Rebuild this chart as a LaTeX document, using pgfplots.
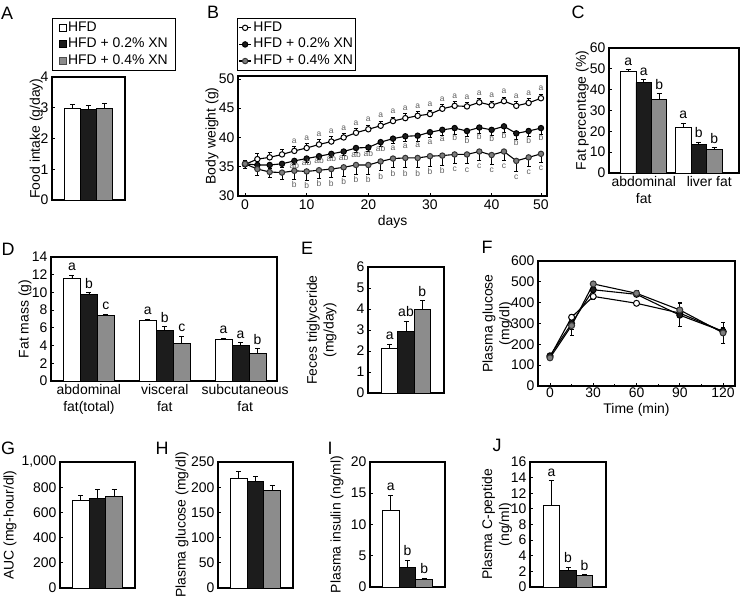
\documentclass[border=0pt]{standalone}
\usepackage{pgfplots}
\pgfplotsset{compat=1.18}
\usepackage{pgfplotstable}
\usepackage{fontspec}
\setmainfont{Liberation Sans}
\newcommand{\lbl}{\fontsize{14}{17}\selectfont}
\newcommand{\pnl}{\fontsize{18}{20}\selectfont}
\newcommand{\sml}{\fontsize{8.5}{9}\selectfont}
\definecolor{gbar}{RGB}{140,140,140}
\definecolor{kbar}{RGB}{28,28,28}
\definecolor{gmark}{RGB}{125,125,125}
\definecolor{lett}{RGB}{95,95,95}

\pgfplotstableread{
i W We K Ke G Ge
0 35.4 0.7 35.5 0.8 35.5 0.8
1 36.3 1.0 35.3 0.6 34.6 1.1
2 36.6 0.8 35.3 0.6 34.1 1.0
3 37.1 0.9 35.5 0.6 34.0 1.1
4 37.7 0.8 36.0 0.6 34.3 1.4
5 38.2 0.8 36.4 0.6 34.2 1.5
6 38.8 0.8 36.8 0.6 34.4 1.4
7 39.3 0.8 37.2 0.6 34.6 1.5
8 40.0 0.7 37.6 0.7 34.9 1.5
9 40.8 0.7 38.2 0.7 35.3 1.6
10 41.4 0.7 38.3 0.7 35.3 1.6
11 42.0 0.8 39.2 0.8 35.9 1.6
12 42.8 0.7 39.8 0.9 36.4 1.6
13 43.3 0.8 40.2 0.9 36.5 1.7
14 43.7 0.7 40.3 0.9 36.5 1.7
15 44.0 0.7 40.9 0.9 36.8 1.7
16 44.9 0.7 41.3 0.9 36.9 1.6
17 45.4 0.7 41.6 1.0 37.1 1.5
18 45.3 0.7 41.1 1.0 37.1 1.6
19 46.0 0.7 41.7 1.0 37.6 1.5
20 45.5 0.7 41.3 1.0 37.0 1.6
21 46.2 0.7 41.9 1.0 37.6 1.5
22 45.4 0.7 40.7 1.1 36.0 1.8
23 45.9 0.7 41.1 1.0 36.6 1.5
24 46.7 0.7 41.6 1.0 37.2 1.4
}\bw

\pgfplotsset{
  panel/.style={scale only axis, clip=false, anchor=south west,
    axis line style={line width=1.2bp},
    tick align=inside, major tick length=3bp, minor tick length=2bp,
    every tick/.style={black, line width=0.8bp},
    xtick pos=bottom, ytick pos=left,
    tick label style={font=\lbl}, label style={font=\lbl},
    every axis y label/.append style={anchor=center},
    /pgf/number format/assume math mode=true},
  barpanel/.style={panel, xmin=-2.25, xmax=2.25, xtick=\empty, ymin=0},
  barbase/.style={ybar, bar shift=0pt, draw=black, line width=0.8bp, forget plot,
    error bars/y dir=plus, error bars/y explicit,
    error bars/error bar style={line width=0.8bp, black},
    error bars/error mark options={rotate=90, mark size=2.5bp, line width=0.8bp, black}},
  letts/.style={draw=none, mark=none, forget plot, nodes near coords, point meta=explicit symbolic,
    every node near coord/.append style={font=\lbl, inner sep=0pt, anchor=south, yshift=4bp, text=black}},
  bletts/.style={draw=none, mark=none, forget plot, nodes near coords, point meta=explicit symbolic,
    every node near coord/.append style={font=\sml, inner sep=0pt, anchor=south, text=lett}},
  sqleg/.style={legend image code/.code={\draw[##1, line width=0.8bp] (0bp,-3.5bp) rectangle (7bp,3.5bp);}},
  mylegend/.style={legend style={draw=black, line width=1bp, font=\lbl, inner xsep=1bp, inner ysep=1bp,
    row sep=0bp, cells={anchor=west}, nodes={inner sep=1.8bp, text height=10bp, text depth=3bp}},
    legend cell align=left},
}

\begin{document}
\begin{tikzpicture}
\path[use as bounding box] (0bp,0bp) rectangle (742bp,597bp);

% ---------------- A
\begin{axis}[barpanel, at={(52bp,397bp)}, width=73bp, height=123bp,
  ymax=4, ytick={0,1,2,3,4}, ylabel={Food intake (g/day)},
  ylabel style={at={(axis description cs:-0.215,0.5)}},
  mylegend, legend style={at={(axis description cs:0,1.48)}, anchor=north west, inner xsep=6bp}]
\addlegendimage{sqleg, fill=white, draw=black}\addlegendentry{HFD}
\addlegendimage{sqleg, fill=kbar, draw=black}\addlegendentry{HFD + 0.2\% XN}
\addlegendimage{sqleg, fill=gbar, draw=black!70}\addlegendentry{HFD + 0.4\% XN}
\addplot[barbase, bar width=1, fill=white] coordinates {(-1,2.97) +- (0,0.13)};
\addplot[barbase, bar width=1, fill=kbar] coordinates {(0,2.95) +- (0,0.13)};
\addplot[barbase, bar width=1, fill=gbar] coordinates {(1,2.97) +- (0,0.17)};
\end{axis}

% ---------------- B
\begin{axis}[panel, at={(238bp,401bp)}, width=309bp, height=120bp,
  xmin=-0.57, xmax=24.49, ymin=30, ymax=50.5,
  xtick={0,5,10,15,20,24}, xticklabels={0,10,20,30,40,50},
  ytick={30,35,40,45,50},
  ylabel={Body weight (g)}, ylabel style={at={(axis description cs:-0.084,0.5)}},
  xlabel={days}, xlabel style={at={(axis description cs:0.5,-0.217)}, anchor=center},
  mylegend, legend style={at={(axis description cs:-0.003,1.483)}, anchor=north west},
  legend image code/.code={\draw[mark repeat=2, mark phase=2, #1] plot coordinates {(0bp,0bp) (6bp,0bp) (12bp,0bp)};}]
\addplot[black, line width=1.1bp, mark=*, mark size=2.7bp, mark options={fill=white, draw=black, line width=1bp},
  error bars/y dir=plus, error bars/y explicit, error bars/error bar style={line width=0.8bp, black},
  error bars/error mark options={rotate=90, mark size=2bp, line width=0.8bp, black}]
  table[x=i, y=W, y error=We] {\bw};
\addlegendentry{HFD}
\addplot[black, line width=1.1bp, mark=*, mark size=2.7bp, mark options={fill=kbar, draw=black, line width=1bp},
  error bars/y dir=minus, error bars/y explicit, error bars/error bar style={line width=0.8bp, black},
  error bars/error mark options={rotate=90, mark size=2bp, line width=0.8bp, black}]
  table[x=i, y=K, y error=Ke] {\bw};
\addlegendentry{HFD + 0.2\% XN}
\addplot[black, line width=1.1bp, mark=*, mark size=2.7bp, mark options={fill=gmark, draw=black!80, line width=1bp},
  error bars/y dir=minus, error bars/y explicit, error bars/error bar style={line width=0.8bp, black},
  error bars/error mark options={rotate=90, mark size=2bp, line width=0.8bp, black}]
  table[x=i, y=G, y error=Ge] {\bw};
\addlegendentry{HFD + 0.4\% XN}
\addplot[bletts] coordinates {(4,39.0)[a] (5,39.5)[a] (6,40.1)[a] (7,40.6)[a] (8,41.2)[a] (9,42.0)[a] (10,42.6)[a] (11,43.3)[a] (12,44.0)[a] (13,44.6)[a] (14,44.9)[a] (15,45.2)[a] (16,46.1)[a] (17,46.6)[a] (18,46.5)[a] (19,47.2)[a] (20,46.7)[a] (21,47.4)[a] (22,46.6)[a] (23,47.1)[a] (24,47.9)[a]};
\addplot[bletts] coordinates {(4,34.7)[ab] (5,35.1)[ab] (6,35.5)[ab] (7,35.9)[ab] (8,36.0)[ab] (9,36.6)[ab] (10,36.7)[ab] (11,37.6)[ab] (12,37.7)[a] (13,38.1)[a] (14,38.2)[a] (15,38.8)[a] (16,39.2)[a] (17,39.5)[b] (18,39.0)[b] (19,39.6)[b] (20,39.2)[b] (21,39.8)[b] (22,38.6)[b] (23,39.0)[b] (24,39.5)[b]};
\addplot[bletts] coordinates {(4,31.4)[b] (5,31.2)[b] (6,31.5)[b] (7,31.6)[b] (8,31.9)[b] (9,32.2)[b] (10,32.2)[b] (11,32.8)[b] (12,33.3)[b] (13,33.3)[b] (14,33.3)[b] (15,33.6)[b] (16,33.8)[b] (17,34.1)[c] (18,34.0)[c] (19,34.6)[c] (20,33.9)[c] (21,34.6)[c] (22,32.7)[c] (23,33.6)[c] (24,34.3)[c]};
\end{axis}

% ---------------- C
\begin{axis}[panel, at={(609bp,424bp)}, width=130bp, height=125bp,
  xmin=-0.63, xmax=1.73, ymin=0, ymax=60, ytick={0,10,...,60},
  xtick={0,1.19}, xticklabels={{abdominal\\fat},{liver fat}},
  xticklabel style={align=center}, major x tick style={draw=none},
  ylabel={Fat percentage (\%)}, ylabel style={at={(axis description cs:-0.206,0.5)}}]
\addplot[barbase, bar width=0.28, fill=white] coordinates {(-0.28,48.8) +- (0,0.8) (0.72,22.1) +- (0,1.9)};
\addplot[barbase, bar width=0.28, fill=kbar] coordinates {(0,43.5) +- (0,1.3) (1,13.9) +- (0,1.0)};
\addplot[barbase, bar width=0.28, fill=gbar] coordinates {(0.28,35.5) +- (0,2.5) (1.28,11.5) +- (0,0.8)};
\addplot[letts] coordinates {(-0.28,49.6)[a] (0,44.8)[a] (0.28,38.0)[b] (0.72,24.0)[a] (1,14.9)[b] (1.28,12.3)[b]};
\end{axis}

% ---------------- D
\begin{axis}[panel, at={(51bp,216bp)}, width=226bp, height=124bp,
  xmin=-0.5, xmax=2.48, ymin=0, ymax=14, ytick={0,2,...,14},
  xtick={0,1,2.06}, xticklabels={{abdominal\\fat(total)},{visceral\\fat},{subcutaneous\\fat}},
  xticklabel style={align=center}, major x tick style={draw=none},
  ylabel={Fat mass (g)}, ylabel style={at={(axis description cs:-0.115,0.5)}}]
\addplot[barbase, bar width=0.224, fill=white] coordinates {(-0.224,11.6) +- (0,0.35) (0.776,6.85) +- (0,0.15) (1.776,4.75) +- (0,0.1)};
\addplot[barbase, bar width=0.224, fill=kbar] coordinates {(0,9.8) +- (0,0.15) (1,5.7) +- (0,0.45) (2,4.05) +- (0,0.3)};
\addplot[barbase, bar width=0.224, fill=gbar] coordinates {(0.224,7.35) +- (0,0.2) (1.224,4.25) +- (0,0.8) (2.224,3.1) +- (0,0.55)};
\addplot[letts] coordinates {(-0.224,11.95)[a] (0,9.95)[b] (0.224,7.55)[c] (0.776,7.0)[a] (1,6.15)[b] (1.224,5.05)[c] (1.776,4.85)[a] (2,4.35)[a] (2.224,3.65)[b]};
\end{axis}

% ---------------- E
\begin{axis}[barpanel, at={(368bp,204bp)}, width=76bp, height=126bp,
  xmin=-2.33, xmax=2.33, ymax=6, ytick={0,1,...,6},
  ylabel={Feces triglyceride\\(mg/day)}, ylabel style={align=center, at={(axis description cs:-0.61,0.5)}}]
\addplot[barbase, bar width=1, fill=white] coordinates {(-1,2.1) +- (0,0.22)};
\addplot[barbase, bar width=1, fill=kbar] coordinates {(0,2.95) +- (0,0.48)};
\addplot[barbase, bar width=1, fill=gbar] coordinates {(1,4.0) +- (0,0.4)};
\addplot[letts] coordinates {(-1,2.32)[a] (0,3.43)[ab] (1,4.4)[b]};
\end{axis}

% ---------------- F
\begin{axis}[panel, at={(538bp,211bp)}, width=197bp, height=125bp,
  xmin=-8.3, xmax=128.3, ymin=0, ymax=600,
  xtick={0,30,...,120}, minor xtick={15,45,75,105}, ytick={0,100,...,600},
  xticklabel style={inner sep=1.5bp},
  ylabel={Plasma glucose\\(mg/dl)}, ylabel style={align=center, at={(axis description cs:-0.206,0.5)}},
  xlabel={Time (min)}, xlabel style={at={(axis description cs:0.5,-0.19)}, anchor=center}]
\addplot[black, line width=1.1bp, mark=*, mark size=3bp, mark options={fill=white, draw=black, line width=1bp},
  error bars/y dir=both, error bars/y explicit, error bars/error bar style={line width=0.8bp, black},
  error bars/error mark options={rotate=90, mark size=2bp, line width=0.8bp, black}]
  coordinates {(0,140) +- (0,8) (15,330) +- (0,12) (30,430) +- (0,12) (60,397) +- (0,10) (90,350) +- (0,20) (120,262) +- (0,15)};
\addplot[black, line width=1.1bp, mark=*, mark size=3bp, mark options={fill=kbar, draw=black, line width=1bp},
  error bars/y dir=both, error bars/y explicit, error bars/error bar style={line width=0.8bp, black},
  error bars/error mark options={rotate=90, mark size=2bp, line width=0.8bp, black}]
  coordinates {(0,145) +- (0,8) (15,300) +- (0,30) (30,462) +- (0,15) (60,440) +- (0,12) (90,340) +- (0,55) (120,262) +- (0,20)};
\addplot[black, line width=1.1bp, mark=*, mark size=3bp, mark options={fill=gmark, draw=black!80, line width=1bp},
  error bars/y dir=both, error bars/y explicit, error bars/error bar style={line width=0.8bp, black},
  error bars/error mark options={rotate=90, mark size=2bp, line width=0.8bp, black}]
  coordinates {(0,135) +- (0,8) (15,290) +- (0,45) (30,490) +- (0,10) (60,445) +- (0,12) (90,365) +- (0,35) (120,255) +- (0,50)};
\end{axis}

% ---------------- G
\begin{axis}[barpanel, at={(60bp,9bp)}, width=75bp, height=126bp,
  ymax=1000, ytick={0,200,...,1000},
  ylabel={AUC (mg-hour/dl)}, ylabel style={at={(axis description cs:-0.667,0.5)}}]
\addplot[barbase, bar width=1, fill=white] coordinates {(-1,696) +- (0,40)};
\addplot[barbase, bar width=1, fill=kbar] coordinates {(0,714) +- (0,66)};
\addplot[barbase, bar width=1, fill=gbar] coordinates {(1,727) +- (0,53)};
\end{axis}

% ---------------- H
\begin{axis}[barpanel, at={(218bp,9bp)}, width=75bp, height=126bp,
  ymax=250, ytick={0,50,...,250},
  ylabel={Plasma glucose (mg/dl)}, ylabel style={at={(axis description cs:-0.48,0.5)}}]
\addplot[barbase, bar width=1, fill=white] coordinates {(-1,217) +- (0,15)};
\addplot[barbase, bar width=1, fill=kbar] coordinates {(0,212) +- (0,10)};
\addplot[barbase, bar width=1, fill=gbar] coordinates {(1,194) +- (0,10)};
\end{axis}

% ---------------- I
\begin{axis}[barpanel, at={(370bp,10bp)}, width=75bp, height=125bp,
  ymax=20, ytick={0,5,...,20},
  ylabel={Plasma insulin (ng/ml)}, ylabel style={at={(axis description cs:-0.44,0.5)}}]
\addplot[barbase, bar width=1, fill=white] coordinates {(-1,12.3) +- (0,2.4)};
\addplot[barbase, bar width=1, fill=kbar] coordinates {(0,3.2) +- (0,1.1)};
\addplot[barbase, bar width=1, fill=gbar] coordinates {(1,1.2) +- (0,0.25)};
\addplot[letts] coordinates {(-1,14.7)[a] (0,4.3)[b] (1,1.45)[b]};
\end{axis}

% ---------------- J
\begin{axis}[barpanel, at={(530bp,10bp)}, width=76bp, height=125bp,
  xmin=-2.3, xmax=2.3, ymax=16, ytick={0,2,...,16},
  ylabel={Plasma C-peptide\\(ng/ml)}, ylabel style={align=center, at={(axis description cs:-0.434,0.5)}}]
\addplot[barbase, bar width=1, fill=white] coordinates {(-1,10.4) +- (0,3.2)};
\addplot[barbase, bar width=1, fill=kbar] coordinates {(0,2.1) +- (0,0.45)};
\addplot[barbase, bar width=1, fill=gbar] coordinates {(1,1.5) +- (0,0.1)};
\addplot[letts] coordinates {(-1,13.6)[a] (0,2.55)[b] (1,1.6)[b]};
\end{axis}

% panel letters
\node[font=\pnl] at (7bp,584bp) {A};
\node[font=\pnl] at (213bp,585bp) {B};
\node[font=\pnl] at (578bp,585bp) {C};
\node[font=\pnl] at (8bp,348bp) {D};
\node[font=\pnl] at (307bp,349bp) {E};
\node[font=\pnl] at (487bp,350bp) {F};
\node[font=\pnl] at (8bp,149bp) {G};
\node[font=\pnl] at (162bp,149bp) {H};
\node[font=\pnl] at (330bp,149bp) {I};
\node[font=\pnl] at (497bp,152bp) {J};
\end{tikzpicture}
\end{document}
